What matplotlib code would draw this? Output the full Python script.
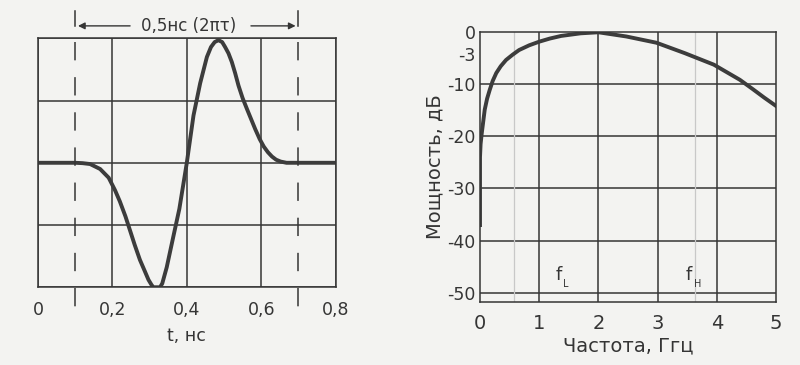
import matplotlib
matplotlib.use("Agg")
import matplotlib.pyplot as plt
import numpy as np

plt.rcParams['font.family'] = ['DejaVu Sans']
plt.rcParams['axes.unicode_minus'] = False

# pulse shape (left panel)
t_ns = [0.0, 0.10, 0.12, 0.14, 0.167, 0.19, 0.207, 0.22, 0.235, 0.247, 0.26, 0.274,
        0.287, 0.297, 0.305, 0.31, 0.328, 0.334, 0.346, 0.364, 0.38, 0.40, 0.418,
        0.436, 0.454, 0.465, 0.475, 0.485, 0.495, 0.503, 0.512, 0.521, 0.53, 0.539,
        0.55, 0.562, 0.573, 0.584, 0.596, 0.607, 0.618, 0.629, 0.64, 0.652, 0.668, 0.80]
pulse = [0.0, 0.0, -0.003, -0.01, -0.05, -0.12, -0.22, -0.31, -0.43, -0.54, -0.66, -0.78,
         -0.87, -0.94, -0.98, -1.0, -1.0, -0.97, -0.84, -0.59, -0.37, 0.0, 0.38,
         0.64, 0.85, 0.93, 0.97, 0.985, 0.97, 0.93, 0.88, 0.81, 0.72, 0.62,
         0.52, 0.43, 0.35, 0.27, 0.19, 0.13, 0.085, 0.05, 0.025, 0.01, 0.0, 0.0]
t_ticks = [0, 0.2, 0.4, 0.6, 0.8]
t_labels = ['0', '0,2', '0,4', '0,6', '0,8']
window = [0.1, 0.7]

# power spectrum (right panel)
freq = [0.0, 0.0, 0.01, 0.03, 0.08, 0.12, 0.165, 0.215, 0.275, 0.35, 0.44, 0.55, 0.66,
        0.83, 1.0, 1.18, 1.37, 1.7, 2.0, 2.47, 2.98, 3.46, 3.95, 4.39, 4.61, 4.8, 5.0]
power = [-37, -24, -21.5, -19.4, -14.9, -12.8, -11.1, -9.4, -7.9, -6.6, -5.4, -4.4, -3.5,
         -2.6, -1.9, -1.3, -0.8, -0.3, -0.1, -0.9, -2.1, -4.1, -6.3, -9.2, -11.0, -12.6, -14.2]
p_ticks = [0, -4.3, -10, -20, -30, -40, -50]
p_labels = ['0', '-3', '-10', '-20', '-30', '-40', '-50']
f_ticks = [0, 1, 2, 3, 4, 5]
f_marks = [0.58, 3.63]

ink = '#353535'
bg = '#f3f3f1'

fig = plt.figure(figsize=(8, 3.65), dpi=100, facecolor=bg)

# --- left: pulse
ax1 = fig.add_axes([0.0475, 0.213, 0.372, 0.682])
ax1.set_facecolor(bg)
ax1.set_xlim(0, 0.8)
ax1.set_ylim(-1, 1)
ax1.set_xticks(t_ticks)
ax1.set_xticklabels(t_labels)
ax1.set_yticks([-1, -0.5, 0, 0.5, 1])
ax1.set_yticklabels([])
ax1.tick_params(length=0, labelsize=12.5, labelcolor=ink, pad=10)
ax1.grid(True, color=ink, lw=1.1)
for s in ax1.spines.values():
    s.set_color(ink)
    s.set_linewidth(1.1)
ax1.plot(t_ns, pulse, color='#3c3c3c', lw=2.8, solid_joinstyle='round')
for w in window:
    ax1.plot([w, w], [0.97, -1.17], color=ink, lw=1.1, ls=(0, (12, 11)), clip_on=False)
    ax1.plot([w, w], [1.1, 1.22], color=ink, lw=1.1, clip_on=False)
ax1.annotate('', xy=(window[0], 1.1), xytext=(0.255, 1.1),
             arrowprops=dict(arrowstyle='-|>', color=ink, lw=1.0), annotation_clip=False)
ax1.annotate('', xy=(window[1], 1.1), xytext=(0.565, 1.1),
             arrowprops=dict(arrowstyle='-|>', color=ink, lw=1.0), annotation_clip=False)
ax1.text(0.405, 1.1, '0,5нс (2πτ)', ha='center', va='center', fontsize=12, color=ink)
ax1.set_xlabel('t, нс', fontsize=12.5, color=ink, labelpad=6)

# --- right: spectrum
ax2 = fig.add_axes([0.6, 0.173, 0.37, 0.74])
ax2.set_facecolor(bg)
ax2.set_xlim(0, 5)
ax2.set_ylim(-51.7, 0)
ax2.set_xticks(f_ticks)
ax2.set_yticks(p_ticks)
ax2.set_yticklabels(p_labels)
ax2.tick_params(length=0, labelcolor=ink)
ax2.tick_params(axis='x', pad=9, labelsize=14)
ax2.tick_params(axis='y', pad=3, labelsize=12.5)
for v in [-10, -20, -30, -40, -50]:
    ax2.axhline(v, color=ink, lw=1.1)
for v in [1, 2, 3, 4]:
    ax2.axvline(v, color=ink, lw=1.1)
for v in f_marks:
    ax2.axvline(v, color='#c8c8c8', lw=0.9)
for s in ax2.spines.values():
    s.set_color(ink)
    s.set_linewidth(1.1)
ax2.plot(freq, power, color='#3c3c3c', lw=2.8, solid_joinstyle='round')
ax2.text(1.33, -46.5, 'f', fontsize=13, color=ink, ha='center', va='center')
ax2.text(1.45, -48.3, 'L', fontsize=7, color=ink, ha='center', va='center')
ax2.text(3.53, -46.5, 'f', fontsize=13, color=ink, ha='center', va='center')
ax2.text(3.67, -48.3, 'H', fontsize=7, color=ink, ha='center', va='center')
ax2.set_xlabel('Частота, Ггц', fontsize=14, color=ink, labelpad=2)
ax2.set_ylabel('Мощность, дБ', fontsize=14, color=ink, labelpad=2)

fig.savefig('out.png', dpi=100, facecolor=bg)
